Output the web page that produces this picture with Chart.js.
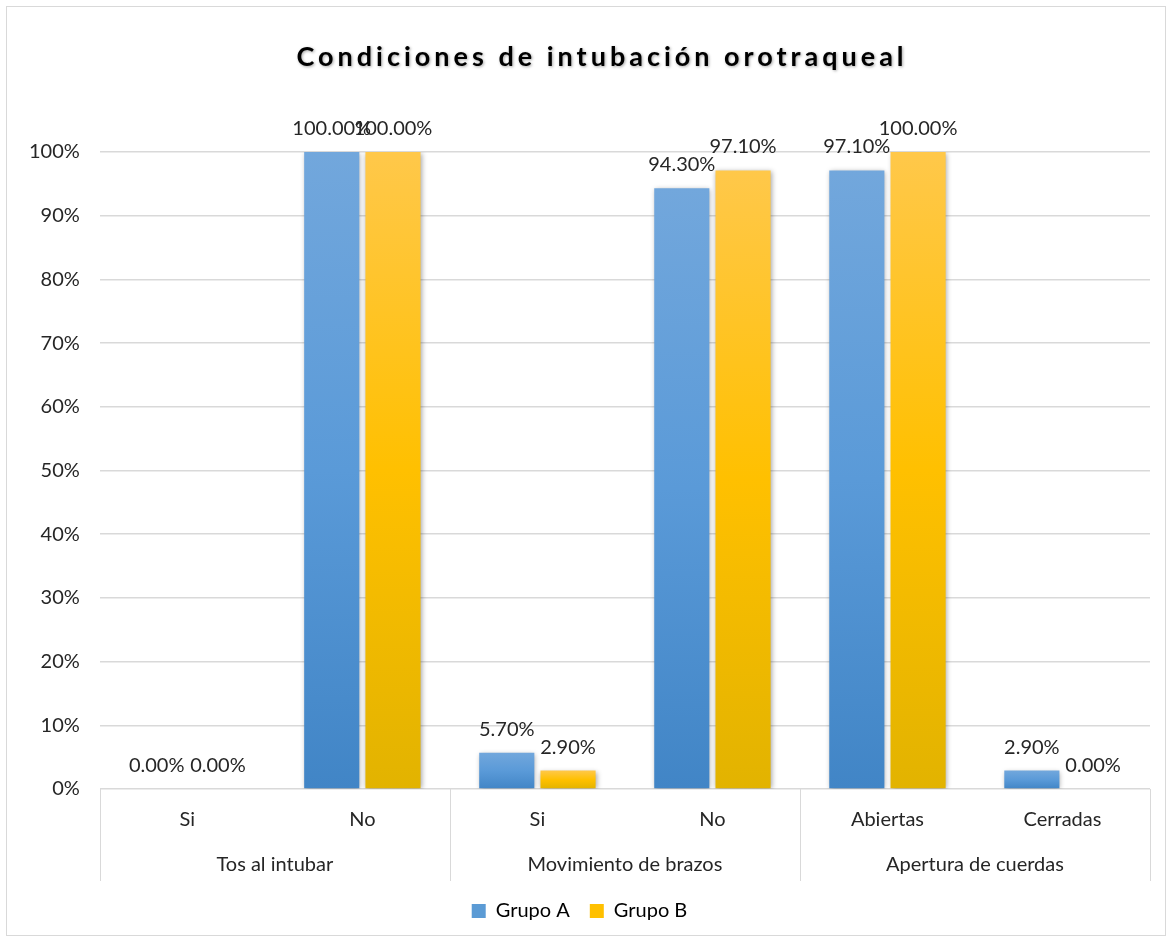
<!DOCTYPE html>
<html>
<head>
<meta charset="utf-8">
<script src="https://cdn.jsdelivr.net/npm/chart.js@4/dist/chart.umd.min.js"></script>
<style>
  body { margin: 0; background: #fff; }
  canvas { display: block; }
</style>
</head>
<body>
<canvas id="intubacionChart" width="1172" height="943"></canvas>
<script>
// datos
const categorias = ['Si', 'No', 'Si', 'No', 'Abiertas', 'Cerradas'];
const grupos = ['Tos al intubar', 'Movimiento de brazos', 'Apertura de cuerdas'];
const grupoA = [0.00, 100.00, 5.70, 94.30, 97.10, 2.90];
const grupoB = [0.00, 100.00, 2.90, 97.10, 100.00, 0.00];
const nombresSeries = ['Grupo A', 'Grupo B'];
const tituloGrafico = 'Condiciones de intubación orotraqueal';

const FONT = 'Lato, "Open Sans", sans-serif';
const TEXT = '#262626';

function barGradient(chart, value, top, mid, bottom) {
    const y = chart.scales.y;
    if (!y || !chart.chartArea) return mid;
    const y0 = y.getPixelForValue(0);
    const y1 = y.getPixelForValue(value);
    if (Math.abs(y0 - y1) < 1) return mid;
    const g = chart.ctx.createLinearGradient(0, y1, 0, y0);
    g.addColorStop(0, top);
    g.addColorStop(0.5, mid);
    g.addColorStop(1, bottom);
    return g;
}

const marcoPlugin = {
    id: 'marco',
    beforeDraw(chart) {
        const ctx = chart.ctx;
        ctx.save();
        ctx.fillStyle = '#fff';
        ctx.fillRect(0, 0, chart.width, chart.height);
        ctx.strokeStyle = '#d9d9d9';
        ctx.lineWidth = 1;
        ctx.strokeRect(6.5, 6.5, 1159, 929);
        // titulo
        ctx.font = 'bold 27px ' + FONT;
        ctx.letterSpacing = '4px';
        ctx.fillStyle = '#000';
        ctx.textAlign = 'center';
        ctx.textBaseline = 'middle';
        ctx.shadowColor = 'rgba(0,0,0,0.35)';
        ctx.shadowBlur = 3;
        ctx.shadowOffsetX = 1;
        ctx.shadowOffsetY = 1;
        ctx.fillText(tituloGrafico, 602, 57);
        ctx.restore();
    }
};

const sombraPlugin = {
    id: 'sombra',
    beforeDatasetsDraw(chart) {
        const ctx = chart.ctx;
        ctx.save();
        ctx.shadowColor = 'rgba(0,0,0,0.35)';
        ctx.shadowBlur = 5;
        ctx.shadowOffsetX = 1;
        ctx.shadowOffsetY = 1;
    },
    afterDatasetsDraw(chart) {
        chart.ctx.restore();
    }
};

const etiquetasPlugin = {
    id: 'etiquetas',
    afterDatasetsDraw(chart) {
        const ctx = chart.ctx;
        ctx.save();
        ctx.font = '20px ' + FONT;
        ctx.fillStyle = TEXT;
        ctx.textAlign = 'center';
        ctx.textBaseline = 'alphabetic';
        chart.data.datasets.forEach((ds, i) => {
            chart.getDatasetMeta(i).data.forEach((bar, j) => {
                ctx.fillText(ds.data[j].toFixed(2) + '%', bar.x, bar.y - 17);
            });
        });

        // eje x agrupado
        const x = chart.scales.x;
        const area = chart.chartArea;
        const step = (x.right - x.left) / categorias.length;
        ctx.strokeStyle = '#d9d9d9';
        ctx.lineWidth = 1;
        for (let k = 0; k <= grupos.length; k++) {
            const px = Math.round(x.left + k * 2 * step) + 0.5;
            ctx.beginPath();
            ctx.moveTo(px, area.bottom);
            ctx.lineTo(px, area.bottom + 92);
            ctx.stroke();
        }
        ctx.textBaseline = 'middle';
        grupos.forEach((g, k) => {
            ctx.fillText(g, x.left + (k * 2 + 1) * step, area.bottom + 76);
        });
        ctx.restore();
    }
};

new Chart(document.getElementById('intubacionChart'), {
    type: 'bar',
    data: {
        labels: categorias,
        datasets: [{
            label: nombresSeries[0],
            data: grupoA,
            backgroundColor: c => barGradient(c.chart, grupoA[c.dataIndex], '#72a7dc', '#5a9ad8', '#4185c6')
        }, {
            label: nombresSeries[1],
            data: grupoB,
            backgroundColor: c => barGradient(c.chart, grupoB[c.dataIndex], '#ffc84a', '#ffc000', '#e2b300')
        }]
    },
    options: {
        responsive: false,
        animation: false,
        categoryPercentage: 0.7,
        barPercentage: 0.9,
        layout: { padding: { left: 9, right: 22, top: 152, bottom: 12 } },
        plugins: {
            title: { display: false },
            tooltip: { enabled: false },
            legend: {
                position: 'bottom',
                labels: {
                    font: { family: FONT, size: 20 },
                    color: TEXT,
                    boxWidth: 14,
                    boxHeight: 14,
                    padding: 20,
                    generateLabels: () => [
                        { text: nombresSeries[0], fillStyle: '#5b9bd5', strokeStyle: '#5b9bd5', lineWidth: 0, datasetIndex: 0 },
                        { text: nombresSeries[1], fillStyle: '#ffc000', strokeStyle: '#ffc000', lineWidth: 0, datasetIndex: 1 }
                    ]
                }
            }
        },
        scales: {
            x: {
                grid: { display: false },
                border: { display: false },
                ticks: { font: { family: FONT, size: 20 }, color: TEXT, padding: 11, maxRotation: 0 },
                afterFit: s => { s.height = 92; }
            },
            y: {
                min: 0,
                max: 100,
                grid: { color: '#d9d9d9', drawTicks: false, lineWidth: 1.5 },
                border: { display: false },
                ticks: {
                    stepSize: 10,
                    font: { family: FONT, size: 20 },
                    color: TEXT,
                    padding: 20,
                    callback: v => v + '%'
                }
            }
        }
    },
    plugins: [marcoPlugin, sombraPlugin, etiquetasPlugin]
});
</script>
</body>
</html>
